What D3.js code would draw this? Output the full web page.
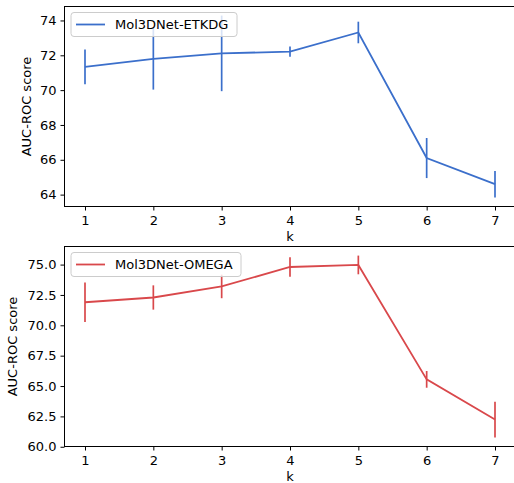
<!DOCTYPE html>
<html>
<head>
<meta charset="utf-8">
<script src="https://cdn.jsdelivr.net/npm/d3@7"></script>
<style>
  body { margin: 0; background: #fff; }
  svg { font-family: "DejaVu Sans", sans-serif; }
  text { fill: #000; }
</style>
</head>
<body>
<script>
// k values on the x axis
var kValues = [1, 2, 3, 4, 5, 6, 7];

// Mol3DNet-ETKDG
var etkdgMean = [71.34, 71.79, 72.11, 72.21, 73.31, 66.1, 64.6];
var etkdgErr = [1.0, 1.76, 2.17, 0.29, 0.62, 1.15, 0.76];

// Mol3DNet-OMEGA
var omegaMean = [71.9, 72.29, 73.2, 74.8, 74.97, 65.55, 62.24];
var omegaErr = [1.63, 1.0, 0.97, 0.8, 0.77, 0.69, 1.47];

var etkdgTicks = [64, 66, 68, 70, 72, 74];
var omegaTicks = [60, 62.5, 65, 67.5, 70, 72.5, 75];

var W = 514, H = 483;
var svg = d3.select("body").append("svg")
  .attr("width", W)
  .attr("height", H);

var xScale = d3.scaleLinear()
  .domain([0.7, 7.3])
  .range([64.5, 515.5]);

function drawPanel(opts) {
  var top = opts.top, bottom = opts.bottom;
  var lo = d3.min(opts.mean, function(d, i) { return d - opts.err[i]; });
  var hi = d3.max(opts.mean, function(d, i) { return d + opts.err[i]; });
  var pad = (hi - lo) * 0.05;
  var yScale = d3.scaleLinear()
    .domain([lo - pad, hi + pad])
    .range([bottom, top]);

  var g = svg.append("g");

  var rows = kValues.map(function(k, i) {
    return {x: k, y: opts.mean[i], e: opts.err[i]};
  });

  // error bars
  g.selectAll("line.err")
    .data(rows)
    .enter().append("line")
    .attr("class", "err")
    .attr("x1", function(d) { return xScale(d.x); })
    .attr("x2", function(d) { return xScale(d.x); })
    .attr("y1", function(d) { return yScale(d.y - d.e); })
    .attr("y2", function(d) { return yScale(d.y + d.e); })
    .attr("stroke", opts.color)
    .attr("stroke-width", 1.7);

  var line = d3.line()
    .x(function(d) { return xScale(d.x); })
    .y(function(d) { return yScale(d.y); });

  g.append("path")
    .datum(rows)
    .attr("d", line)
    .attr("fill", "none")
    .attr("stroke", opts.color)
    .attr("stroke-width", 1.8);

  // spines
  g.append("rect")
    .attr("x", 64.5).attr("y", top)
    .attr("width", 515.5 - 64.5).attr("height", bottom - top)
    .attr("fill", "none")
    .attr("stroke", "#000")
    .attr("stroke-width", 1);

  var xAxis = d3.axisBottom(xScale)
    .tickValues(kValues)
    .tickSize(4)
    .tickPadding(5)
    .tickFormat(d3.format("d"));
  var gx = g.append("g")
    .attr("transform", "translate(0," + bottom + ")")
    .call(xAxis);
  gx.select(".domain").remove();

  var yAxis = d3.axisLeft(yScale)
    .tickValues(opts.ticks)
    .tickSize(4)
    .tickPadding(4)
    .tickFormat(d3.format(opts.fmt));
  var gy = g.append("g")
    .attr("transform", "translate(64.5,0)")
    .call(yAxis);
  gy.select(".domain").remove();

  g.selectAll(".tick text")
    .attr("font-size", 13)
    .attr("fill", "#000")
    .attr("font-family", "DejaVu Sans");

  g.append("text")
    .attr("x", xScale(4))
    .attr("y", bottom + 34)
    .attr("text-anchor", "middle")
    .attr("font-size", 13)
    .attr("fill", "#000")
    .text("k");

  g.append("text")
    .attr("transform", "translate(" + opts.ylabX + "," + ((top + bottom) / 2) + ") rotate(-90)")
    .attr("text-anchor", "middle")
    .attr("font-size", 13)
    .attr("fill", "#000")
    .text("AUC-ROC score");

  // legend
  var lg = g.append("g").attr("transform", "translate(71," + (top + 6) + ")");
  lg.append("rect")
    .attr("width", opts.legendW).attr("height", 24)
    .attr("rx", 3)
    .attr("fill", "#fff").attr("fill-opacity", 0.8)
    .attr("stroke", "#ccc").attr("stroke-width", 1);
  lg.append("line")
    .attr("x1", 5).attr("x2", 34)
    .attr("y1", 12).attr("y2", 12)
    .attr("stroke", opts.color)
    .attr("stroke-width", 1.8);
  lg.append("text")
    .attr("x", 44).attr("y", 16.5)
    .attr("font-size", 13)
    .attr("fill", "#000")
    .text(opts.label);
}

drawPanel({
  top: 6.5, bottom: 206.5,
  mean: etkdgMean, err: etkdgErr,
  ticks: etkdgTicks, fmt: "d",
  color: "#3b6fcb",
  label: "Mol3DNet-ETKDG",
  legendW: 166,
  ylabX: 31
});

drawPanel({
  top: 246.5, bottom: 446.5,
  mean: omegaMean, err: omegaErr,
  ticks: omegaTicks, fmt: ".1f",
  color: "#d9484b",
  label: "Mol3DNet-OMEGA",
  legendW: 170,
  ylabX: 17
});
</script>
</body>
</html>
